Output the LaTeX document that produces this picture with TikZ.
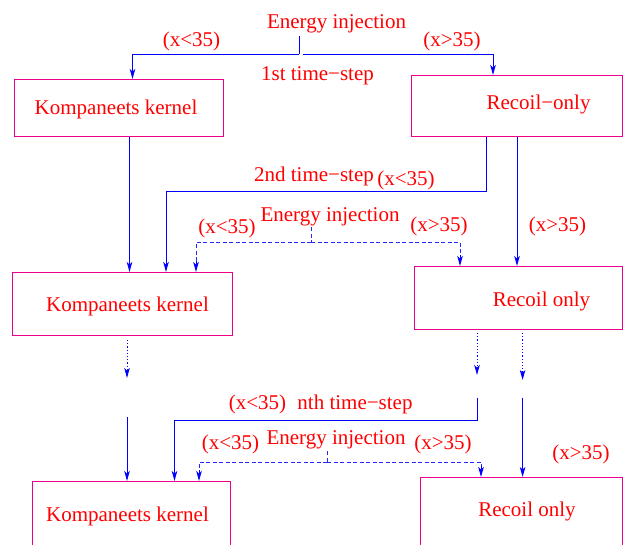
\documentclass[tikz,border=0pt]{standalone}
\usepackage{fontspec}
\setmainfont{Liberation Serif}
\usetikzlibrary{arrows.meta,calc}
\colorlet{dblue}{blue!85}
\begin{document}
\begin{tikzpicture}[x=1pt,y=-1pt,
  lbl/.style={text=red,font=\fontsize{21}{25}\selectfont,inner sep=0pt,anchor=center,yshift=-1.5pt},
  box/.style={draw=magenta,line width=1.2pt,inner sep=0pt,anchor=north west},
  ln/.style={draw=blue,line width=1pt},
  arr/.style={ln,-{Stealth[length=10pt,width=5.5pt,inset=2.5pt]}},
  dln/.style={draw=dblue,line width=1pt,dash pattern=on 4pt off 2.5pt},
  dtip/.style={arr},
  dotarr/.style={arr,dash pattern=on 1.2pt off 2pt}]
\clip (0,0) rectangle (624,544);
% boxes
\node[box,minimum width=209pt,minimum height=57pt] (k1) at (14,79) {};
\node[box,minimum width=211pt,minimum height=61pt] (r1) at (411,75) {};
\node[box,minimum width=220pt,minimum height=63pt] (k2) at (12,272) {};
\node[box,minimum width=208pt,minimum height=63pt] (r2) at (414,266) {};
\node[box,minimum width=198pt,minimum height=90pt] (k3) at (32,481) {};
\node[box,minimum width=202pt,minimum height=90pt] (r3) at (420,477) {};
% texts
\node[lbl] (ei1) at (336.5,22) {Energy injection};
\node[lbl] (l1a) at (191.5,40) {(x<35)};
\node[lbl] (l1b) at (452,40) {(x>35)};
\node[lbl] (ts1) at (317.5,74) {1st time−step};
\node[lbl] (k1t) at (116,108) {Kompaneets kernel};
\node[lbl] (r1t) at (538.5,103) {Recoil−only};
\node[lbl] (ts2) at (314,175) {2nd time−step};
\node[lbl] (l2a) at (406,179) {(x<35)};
\node[lbl] (ei2) at (330,215) {Energy injection};
\node[lbl] (l2b) at (227,227) {(x<35)};
\node[lbl] (l2c) at (439,225) {(x>35)};
\node[lbl] (l2d) at (557.5,225) {(x>35)};
\node[lbl] (k2t) at (127.5,305) {Kompaneets kernel};
\node[lbl] (r2t) at (541.5,300) {Recoil only};
\node[lbl] (l3a) at (257.5,403) {(x<35)};
\node[lbl] (ts3) at (355,403) {nth time−step};
\node[lbl] (ei3) at (336,438) {Energy injection};
\node[lbl] (l3b) at (230.5,443) {(x<35)};
\node[lbl] (l3c) at (443,443) {(x>35)};
\node[lbl] (l3d) at (581,453) {(x>35)};
\node[lbl] (k3t) at (127.5,515) {Kompaneets kernel};
\node[lbl] (r3t) at (527,510) {Recoil only};
% junction coordinates
\coordinate (s1) at (299,36);
\coordinate (j1) at (299,54);
\coordinate (j1b) at (302.5,54);
\coordinate (t2) at (166,191);
\coordinate (s2) at (311,227);
\coordinate (j2) at (311,242);
\coordinate (d1a) at (127,340);
\coordinate (d1b) at (127,378);
\coordinate (d2a) at (477,333);
\coordinate (d2b) at (477,375);
\coordinate (d3a) at (522.6,333);
\coordinate (d3b) at (522.6,380);
\coordinate (c1) at (127,417);
\coordinate (c2) at (477,398);
\coordinate (t3) at (174.5,420);
\coordinate (c3) at (522.6,398);
\coordinate (s3) at (327,451);
\coordinate (j3) at (327,462);
% first step
\draw[ln] (s1) -- (j1);
\draw[arr] (j1) -| ([xshift=118.5pt]k1.north west);
\draw[arr] (j1b) -| ([xshift=82pt]r1.north west);
% second step
\draw[arr] ([xshift=115.5pt]k1.south west) -- ([xshift=115.5pt]k1.south west |- k2.north);
\draw[arr] ([xshift=75.6pt]r1.south west) |- (t2) -- (t2 |- k2.north);
\draw[arr] ([xshift=106pt]r1.south west) -- ([xshift=106pt]r1.south west |- r2.north);
\draw[dln] (s2) -- (j2);
\draw[dln] (j2) -| ([xshift=184pt,yshift=11pt]k2.north west);
\draw[dln] (j2) -| ([xshift=46pt,yshift=11pt]r2.north west);
\draw[dtip] ([xshift=184pt,yshift=11pt]k2.north west) -- ([xshift=184pt]k2.north west);
\draw[dtip] ([xshift=46pt,yshift=11pt]r2.north west) -- ([xshift=46pt]r2.north west);
% dotted continuation
\draw[dotarr] (d1a) -- (d1b);
\draw[dotarr] (d2a) -- (d2b);
\draw[dotarr] (d3a) -- (d3b);
% nth step
\draw[arr] (c1) -- (c1 |- k3.north);
\draw[arr] (c2) |- (t3) -- (t3 |- k3.north);
\draw[arr] (c3) -- (c3 |- r3.north);
\draw[dln] (s3) -- (j3);
\draw[dln] (j3) -| ([xshift=167pt,yshift=11pt]k3.north west);
\draw[dln] (j3) -| ([xshift=61pt,yshift=11pt]r3.north west);
\draw[dtip] ([xshift=167pt,yshift=11pt]k3.north west) -- ([xshift=167pt]k3.north west);
\draw[dtip] ([xshift=61pt,yshift=11pt]r3.north west) -- ([xshift=61pt]r3.north west);
\end{tikzpicture}
\end{document}
